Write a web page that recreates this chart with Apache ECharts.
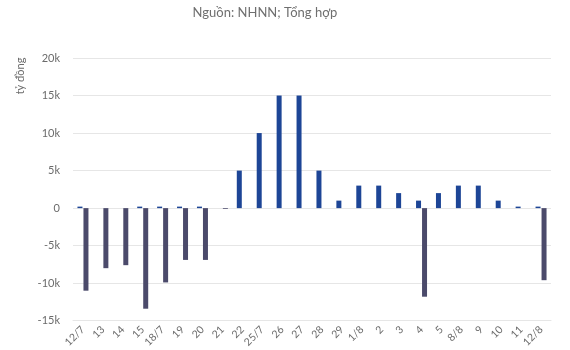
<!DOCTYPE html>
<html>
<head>
<meta charset="utf-8">
<script src="https://cdn.jsdelivr.net/npm/echarts@6/dist/echarts.min.js"></script>
<style>
  html, body { margin: 0; padding: 0; background: #fff; }
  #chart { width: 570px; height: 350px; }
</style>
</head>
<body>
<div id="chart"></div>
<script>
// Trading days (July – August)
const categories = ['12/7', '13', '14', '15', '18/7', '19', '20', '21', '22', '25/7', '26', '27',
  '28', '29', '1/8', '2', '3', '4', '5', '8/8', '9', '10', '11', '12/8'];

// Net injection, tỷ đồng
const injection = [200, 0, 0, 200, 200, 200, 200, 0, 5000, 10000, 15000, 15000,
  5000, 1000, 3000, 3000, 2000, 1000, 2000, 3000, 3000, 1000, 200, 200];

// Net withdrawal, tỷ đồng
const withdrawal = [-11000, -8000, -7600, -13400, -9900, -6900, -6900, -100, 0, 0, 0, 0,
  0, 0, 0, 0, 0, -11800, 0, 0, 0, 0, 0, -9600];

const yTicks = { min: -15000, max: 20000, interval: 5000 };

const labelColor = '#6b6b6b';
const gridColor = '#e6e6e6';
const font = 'Lato, "Noto Sans", sans-serif';

const chart = echarts.init(document.getElementById('chart'), null, { renderer: 'canvas' });

chart.setOption({
  backgroundColor: '#ffffff',
  animation: false,
  title: {
    text: 'Nguồn: NHNN; Tổng hợp',
    left: 260,
    top: 1,
    textAlign: 'center',
    textStyle: { color: '#6f6f6f', fontSize: 13, fontWeight: 'normal', fontFamily: font }
  },
  graphic: [{
    type: 'text',
    x: 20,
    y: 76,
    rotation: Math.PI / 2,
    style: {
      text: 'tỷ đồng',
      fill: labelColor,
      font: '11px ' + font,
      align: 'center',
      verticalAlign: 'middle'
    }
  }],
  grid: { left: 73, right: 19, top: 58, bottom: 28 },
  xAxis: {
    type: 'category',
    data: categories,
    axisLine: { onZero: false, lineStyle: { color: gridColor } },
    axisTick: { show: false },
    axisLabel: {
      color: labelColor,
      fontSize: 10.5,
      fontFamily: font,
      rotate: 45,
      interval: 0,
      margin: 7
    }
  },
  yAxis: {
    type: 'value',
    min: yTicks.min,
    max: yTicks.max,
    interval: yTicks.interval,
    axisLine: { show: false },
    axisTick: { show: false },
    splitLine: { lineStyle: { color: gridColor } },
    axisLabel: {
      color: labelColor,
      fontSize: 11,
      fontFamily: font,
      margin: 13,
      formatter: v => (v === 0 ? '0' : (v / 1000) + 'k')
    }
  },
  series: [
    {
      name: 'Bơm ròng',
      type: 'bar',
      data: injection,
      barWidth: 5,
      barGap: '20%',
      itemStyle: { color: '#1d4596' }
    },
    {
      name: 'Hút ròng',
      type: 'bar',
      data: withdrawal,
      barWidth: 5,
      itemStyle: { color: '#4b4a6b' }
    }
  ]
});
</script>
</body>
</html>
